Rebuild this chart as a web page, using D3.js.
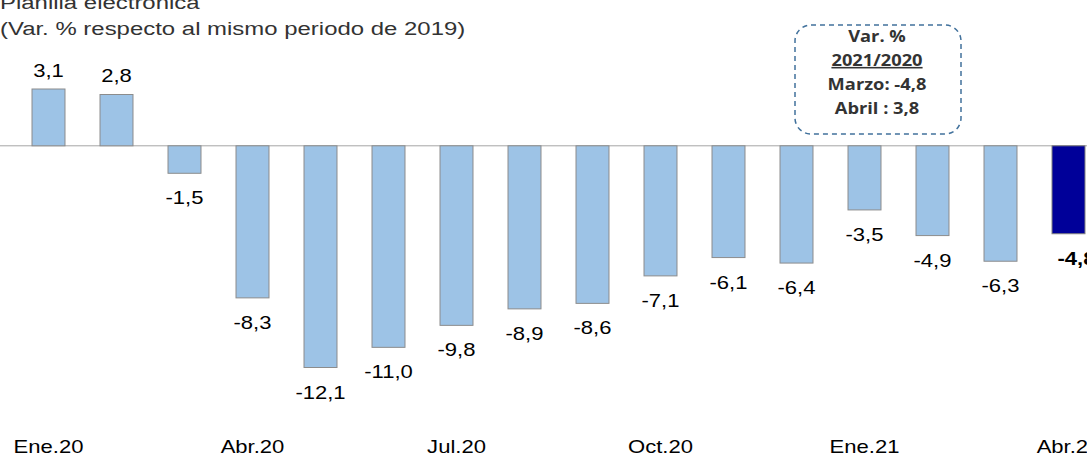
<!DOCTYPE html>
<html>
<head>
<meta charset="utf-8">
<script src="https://cdn.jsdelivr.net/npm/d3@7"></script>
<style>
  body { margin: 0; background: #fff; }
  text { font-family: "Liberation Sans", Arial, sans-serif; }
</style>
</head>
<body>
<svg id="chart"></svg>
<script>
// months and values (var. % vs same period 2019)
var months = ["Ene.20","Feb.20","Mar.20","Abr.20","May.20","Jun.20","Jul.20","Ago.20","Set.20",
              "Oct.20","Nov.20","Dic.20","Ene.21","Feb.21","Mar.21","Abr.21"];
var values = [3.1, 2.8, -1.5, -8.3, -12.1, -11.0, -9.8, -8.9, -8.6, -7.1, -6.1, -6.4, -3.5, -4.9, -6.3, -4.8];
var tickMonths = ["Ene.20","Abr.20","Jul.20","Oct.20","Ene.21","Abr.21"];
var boxLines = ["Var. %", "2021/2020", "Marzo: -4,8", "Abril : 3,8"];

var width = 1087, height = 457;
var sx = 1.26; // the original text looks stretched horizontally
var svg = d3.select("#chart").attr("width", width).attr("height", height);

// band scale, last band runs off the right edge like the original
var x = d3.scaleBand().domain(months).range([14.5, 14.5 + 68 * months.length]).paddingInner(0.515).paddingOuter(0.2575);
var y = d3.scaleLinear().domain([-12.1, 3.1]).range([367.5, 89]);

var fmt = function(v){ return d3.format(".1f")(v).replace(".", ",").replace("\u2212", "-"); };

function place(px, py, s){ return "translate(" + px + "," + py + ") scale(" + s + ",1)"; }

// title
svg.append("text").attr("transform", place(0, 9, sx)).attr("font-size", 19).attr("fill", "#333").text("Planilla electrónica");
svg.append("text").attr("transform", place(0, 35, sx)).attr("font-size", 19).attr("fill", "#333")
   .text("(Var. % respecto al mismo periodo de 2019)");

// zero line
svg.append("line").attr("x1", 0).attr("x2", width).attr("y1", y(0)).attr("y2", y(0))
   .attr("stroke", "#a6a6a6").attr("stroke-width", 1);

// bars
svg.append("g").selectAll("rect").data(values).enter().append("rect")
   .attr("x", function(d,i){ return x(months[i]); })
   .attr("y", function(d){ return Math.min(y(d), y(0)); })
   .attr("width", x.bandwidth())
   .attr("height", function(d){ return Math.abs(y(d) - y(0)); })
   .attr("fill", function(d,i){ return i == values.length-1 ? "#000099" : "#9dc3e6"; })
   .attr("stroke", function(d,i){ return i == values.length-1 ? "#7f7f7f" : "#8c8c8c"; })
   .attr("stroke-width", 1);

// value labels
svg.append("g").selectAll("text").data(values).enter().append("text")
   .attr("transform", function(d,i){
       var cx = x(months[i]) + x.bandwidth()/2 + (i == values.length-1 ? 8 : 0);
       return place(cx, d >= 0 ? y(d) - 12 : y(d) + 31, sx);
   })
   .attr("text-anchor", "middle")
   .attr("font-size", 17.5)
   .attr("font-weight", function(d,i){ return i == values.length-1 ? "bold" : "normal"; })
   .attr("fill", "#000")
   .text(function(d){ return fmt(d); });

// x axis labels
svg.append("g").selectAll("text").data(tickMonths).enter().append("text")
   .attr("transform", function(d){ return place(x(d) + x.bandwidth()/2, 453, sx); })
   .attr("text-anchor", "middle")
   .attr("font-size", 17.5)
   .attr("fill", "#000")
   .text(function(d){ return d; });

// dashed note box
svg.append("rect").attr("x", 795).attr("y", 25).attr("width", 166).attr("height", 109)
   .attr("rx", 16).attr("ry", 16)
   .attr("fill", "none").attr("stroke", "#41719c").attr("stroke-width", 1.5)
   .attr("stroke-dasharray", "5,4");

svg.append("g").selectAll("text").data(boxLines).enter().append("text")
   .attr("transform", function(d,i){ return place(877, 42 + i*24, 1.18); })
   .attr("text-anchor", "middle")
   .attr("font-size", 15.5)
   .attr("font-weight", "bold")
   .attr("fill", "#333")
   .style("font-family", "'Open Sans', sans-serif")
   .attr("text-decoration", function(d,i){ return i == 1 ? "underline" : null; })
   .text(function(d){ return d; });
</script>
</body>
</html>
